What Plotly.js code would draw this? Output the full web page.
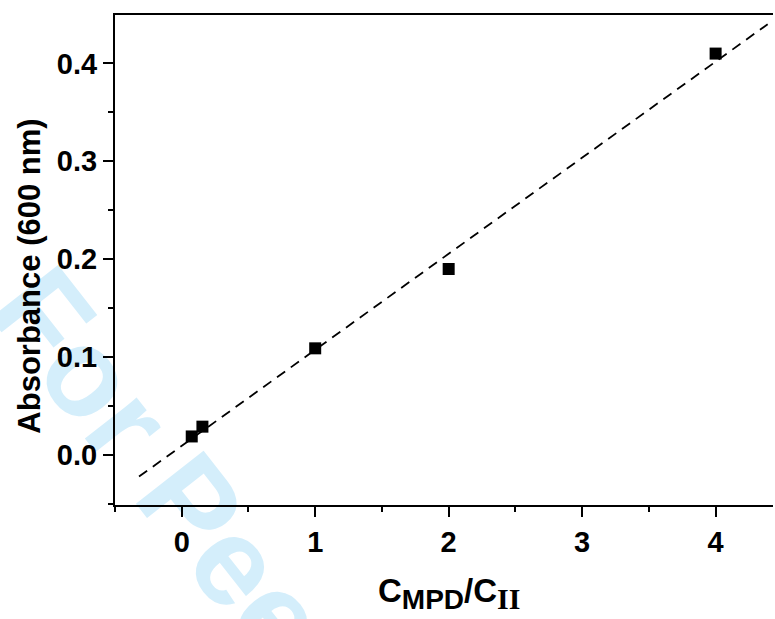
<!DOCTYPE html>
<html>
<head>
<meta charset="utf-8">
<script src="https://cdn.plot.ly/plotly-3.0.1.min.js"></script>
<style>html,body{margin:0;padding:0;background:#fff;}#chart{width:775px;height:619px;}</style>
</head>
<body>
<div id="chart"></div>
<script>
// Data
const ratioX = [0.075, 0.155, 1, 2, 4];
const absorbance = [0.019, 0.029, 0.109, 0.19, 0.41];
const fitX = [-0.32, 4.39];
const fitY = [-0.022, 0.440];
const xTickVals = [0, 1, 2, 3, 4];
const xTickText = ['0', '1', '2', '3', '4'];
const yTickVals = [0.0, 0.1, 0.2, 0.3, 0.4];
const yTickText = ['0.0', '0.1', '0.2', '0.3', '0.4'];

const tickFont = {family: 'Arial, "Liberation Sans", sans-serif', size: 29, color: '#000', weight: 700};

const traces = [
  {x: fitX, y: fitY, type: 'scatter', mode: 'lines',
   line: {color: '#000', width: 1.8, dash: '10px,7px'}, hoverinfo: 'skip', showlegend: false},
  {x: ratioX, y: absorbance, type: 'scatter', mode: 'markers',
   marker: {symbol: 'square', size: 12, color: '#000'}, showlegend: false}
];

const layout = {
  width: 775, height: 619,
  margin: {l: 115, r: 2, t: 15, b: 114},
  paper_bgcolor: '#fff', plot_bgcolor: 'rgba(0,0,0,0)',
  showlegend: false,
  xaxis: {
    range: [-0.5, 4.43], showgrid: false, zeroline: false,
    showline: true, linecolor: '#000', linewidth: 2, mirror: true,
    tickmode: 'array', tickvals: xTickVals, ticktext: xTickText,
    ticks: 'outside', ticklen: 10, tickwidth: 2, tickcolor: '#000',
    tickfont: tickFont,
    minor: {dtick: 0.5, tick0: 0, ticks: 'outside', ticklen: 5, tickwidth: 2, tickcolor: '#000', showgrid: false}
  },
  yaxis: {
    range: [-0.051, 0.4494], showgrid: false, zeroline: false,
    showline: true, linecolor: '#000', linewidth: 2,
    tickmode: 'array', tickvals: yTickVals, ticktext: yTickText,
    ticks: 'outside', ticklen: 10, tickwidth: 2, tickcolor: '#000',
    tickfont: tickFont,
    minor: {dtick: 0.05, tick0: 0, ticks: 'outside', ticklen: 5, tickwidth: 2, tickcolor: '#000', showgrid: false}
  },
  shapes: [{
    type: 'line', xref: 'paper', yref: 'paper', layer: 'below',
    x0: 0.044, y0: 0.165, x1: 0.606, y1: -0.798,
    line: {color: 'rgba(0,0,0,0)', width: 0},
    label: {text: 'For Peer Review', textangle: 'auto', textposition: 'middle', yanchor: 'middle',
            font: {family: 'Arial, "Liberation Sans", sans-serif', size: 125, color: '#d4eefb', weight: 700}}
  }],
  annotations: [
    {xref: 'paper', yref: 'paper', x: -0.13, y: 0.467, showarrow: false, textangle: -90,
     xanchor: 'center', yanchor: 'middle',
     text: 'Absorbance (600 nm)',
     font: {family: 'Arial, "Liberation Sans", sans-serif', size: 31, color: '#000', weight: 700}},
    {xref: 'paper', yref: 'paper', x: 0.508, y: -0.18, showarrow: false,
     xanchor: 'center', yanchor: 'middle',
     text: 'C<sub><span style="font-size:28px">MPD</span></sub>/C<sub><span style="font-family:\'Liberation Serif\',\'Times New Roman\',serif;font-size:30px">II</span></sub>',
     font: {family: 'Arial, "Liberation Sans", sans-serif', size: 33, color: '#000', weight: 700}}
  ]
};

Plotly.newPlot('chart', traces, layout, {displayModeBar: false, staticPlot: true});
</script>
</body>
</html>
